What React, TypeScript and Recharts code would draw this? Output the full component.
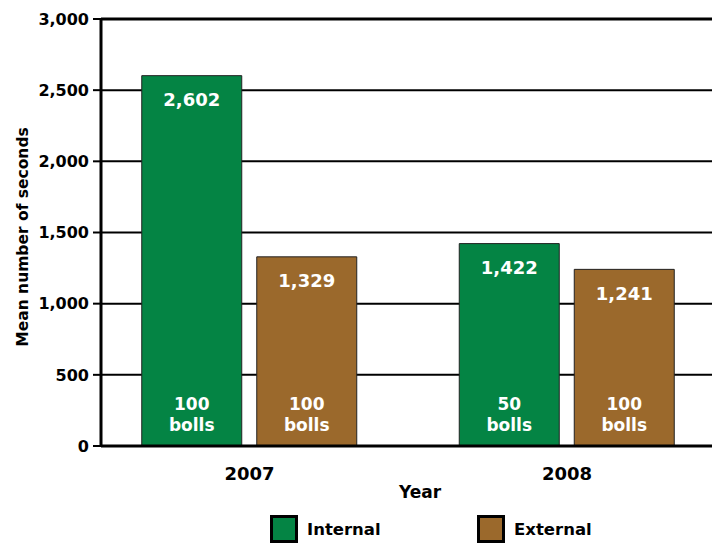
import React from "react";
import {
  BarChart,
  Bar,
  XAxis,
  YAxis,
  CartesianGrid,
  ReferenceLine,
  LabelList,
} from "recharts";

const years = ["2007", "2008"];
const internalSeconds = [2602, 1422];
const externalSeconds = [1329, 1241];
const internalBolls = [100, 50];
const externalBolls = [100, 100];
const yTicks = [0, 500, 1000, 1500, 2000, 2500, 3000];

const GREEN = "#048444";
const BROWN = "#9b692c";
const FONT = "'DejaVu Sans', sans-serif";

const data = years.map((year, i) => ({
  year,
  internal: internalSeconds[i],
  external: externalSeconds[i],
  internalBolls: internalBolls[i],
  externalBolls: externalBolls[i],
}));

const fmt = (v: number) => v.toLocaleString("en-US");

// value printed near the top of each bar
const ValueLabel = (props: any) => {
  const { x, y, width, value } = props;
  return (
    <text
      x={x + width / 2}
      y={y + 24}
      textAnchor="middle"
      dominantBaseline="central"
      fill="#fff"
      fontFamily={FONT}
      fontWeight="bold"
      fontSize={18}
    >
      {fmt(value)}
    </text>
  );
};

// sample size printed at the foot of each bar
const BollsLabel = (props: any) => {
  const { x, y, width, height, value } = props;
  const bottom = y + height;
  const cx = x + width / 2;
  return (
    <text
      textAnchor="middle"
      fill="#fff"
      fontFamily={FONT}
      fontWeight="bold"
      fontSize={17}
    >
      <tspan x={cx} y={bottom - 36}>
        {value}
      </tspan>
      <tspan x={cx} y={bottom - 15}>
        bolls
      </tspan>
    </text>
  );
};

const YearTick = (props: any) => {
  const { x, y, payload } = props;
  return (
    <text
      x={x}
      y={y + 26}
      textAnchor="middle"
      fill="#000"
      fontFamily={FONT}
      fontWeight="bold"
      fontSize={18}
    >
      {payload.value}
    </text>
  );
};

const LegendItem = ({ color, label, left }: { color: string; label: string; left: number }) => (
  <div style={{ position: "absolute", left, top: 515, display: "flex", alignItems: "center" }}>
    <div
      style={{
        width: 22,
        height: 22,
        background: color,
        border: "3px solid #000",
      }}
    />
    <span
      style={{
        marginLeft: 9,
        fontFamily: FONT,
        fontWeight: "bold",
        fontSize: 16.5,
        color: "#000",
      }}
    >
      {label}
    </span>
  </div>
);

export default function App() {
  return (
    <div
      style={{
        position: "absolute",
        left: 0,
        top: 0,
        width: 712,
        height: 544,
        overflow: "hidden",
        background: "#fff",
      }}
    >
      <BarChart
        width={712}
        height={544}
        data={data}
        margin={{ top: 19, right: 0, bottom: 58, left: 0 }}
        barSize={100}
        barGap={15}
      >
        <CartesianGrid horizontal vertical={false} stroke="#000" strokeWidth={2} />
        <XAxis
          dataKey="year"
          height={40}
          padding={{ left: -10.25, right: -13.75 }}
          axisLine={{ stroke: "#000", strokeWidth: 3 }}
          tickLine={false}
          tick={<YearTick />}
          label={{
            content: ({ viewBox }: any) => (
              <text
                x={420}
                y={viewBox.y + 52}
                textAnchor="middle"
                fill="#000"
                fontFamily={FONT}
                fontWeight="bold"
                fontSize={17}
              >
                Year
              </text>
            ),
          }}
        />
        <YAxis
          width={101}
          domain={[0, 3000]}
          ticks={yTicks}
          tickFormatter={fmt}
          axisLine={{ stroke: "#000", strokeWidth: 3 }}
          tickLine={{ stroke: "#000", strokeWidth: 2 }}
          tickSize={8}
          tickMargin={4}
          tick={{ fill: "#000", fontFamily: FONT, fontWeight: "bold", fontSize: 16 }}
          label={{
            content: () => (
              <text
                x={23}
                y={237}
                transform="rotate(-90 23 237)"
                textAnchor="middle"
                dominantBaseline="central"
                fill="#000"
                fontFamily={FONT}
                fontWeight="bold"
                fontSize={15.5}
              >
                Mean number of seconds
              </text>
            ),
          }}
        />
        <ReferenceLine y={3000} stroke="#000" strokeWidth={3} />
        <Bar dataKey="internal" fill={GREEN} stroke="#222" strokeWidth={1} isAnimationActive={false}>
          <LabelList dataKey="internal" content={<ValueLabel />} />
          <LabelList dataKey="internalBolls" content={<BollsLabel />} />
        </Bar>
        <Bar dataKey="external" fill={BROWN} stroke="#222" strokeWidth={1} isAnimationActive={false}>
          <LabelList dataKey="external" content={<ValueLabel />} />
          <LabelList dataKey="externalBolls" content={<BollsLabel />} />
        </Bar>
      </BarChart>
      <LegendItem color={GREEN} label="Internal" left={270} />
      <LegendItem color={BROWN} label="External" left={477} />
    </div>
  );
}
